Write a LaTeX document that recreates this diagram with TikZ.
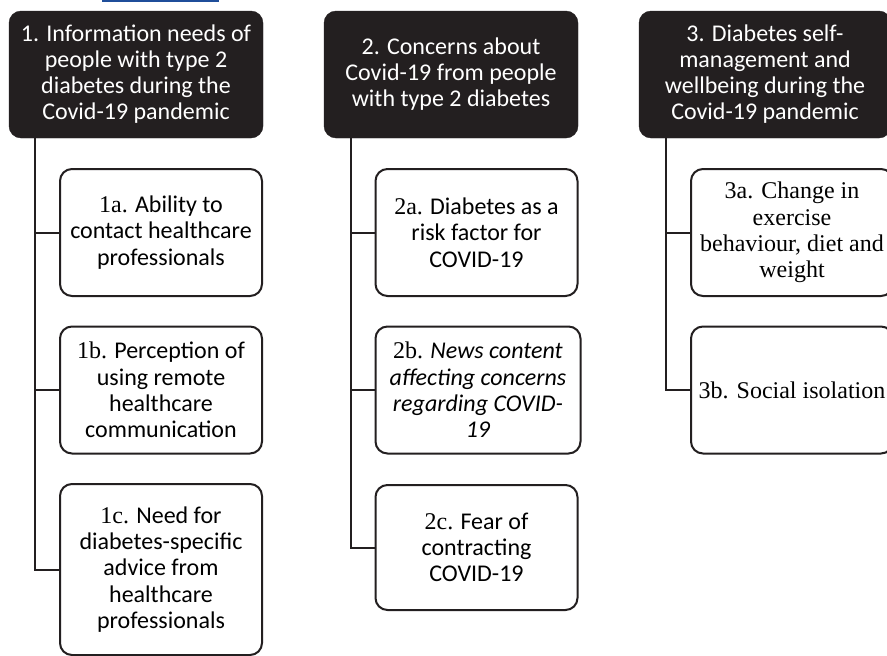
\documentclass[tikz,border=0pt]{standalone}
\usepackage{fontspec}
\setmainfont{Liberation Serif}
\newfontfamily\carl{Carlito}
\definecolor{hd}{HTML}{231F20}
\definecolor{bl}{HTML}{1F4E9A}
\begin{document}
\begin{tikzpicture}[x=1pt,y=-1pt,
  head/.style={rounded corners=12pt, fill=hd, draw=hd, text=white,
    minimum width=254, minimum height=127, align=center, inner sep=1pt,
    font=\carl\fontsize{24}{26}\selectfont},
  sub/.style={draw=hd, line width=2pt, rounded corners=12pt, fill=white,
    minimum width=202, minimum height=127, align=center, inner sep=1pt,
    font=\carl\fontsize{24}{26.3}\selectfont},
  subs/.style={sub, font=\rmfamily\fontsize{24}{26.3}\selectfont},
  conn/.style={draw=hd, line width=2pt}]
\clip (0,0) rectangle (887,656);
\fill[white] (0,0) rectangle (887,656);
\node[fill=bl, minimum width=117, minimum height=3, inner sep=0pt] (bar) at (160.5,0) {};
% headers
\node[head] (h1) at (136,74.5) {1. Information needs of\\people with type 2\\diabetes during the\\Covid-19 pandemic};
\node[head] (h2) at (451,74.5) {2. Concerns about\\Covid-19 from people\\with type 2 diabetes};
\node[head, minimum width=252] (h3) at (765,74.5) {3. Diabetes self-\\management and\\wellbeing during the\\Covid-19 pandemic};
% column 1
\node[sub] (s1a) at (161,232.5) {{\rmfamily 1a.} Ability to\\contact healthcare\\professionals};
\node[sub] (s1b) at (161,390) {{\rmfamily 1b.} Perception of\\using remote\\healthcare\\communication};
\node[sub, minimum height=171] (s1c) at (161,569.5) {{\rmfamily 1c.} Need for\\diabetes-specific\\advice from\\healthcare\\professionals};
% column 2
\node[sub] (s2a) at (476.5,232.5) {{\rmfamily 2a.} Diabetes as a\\risk factor for\\COVID-19};
\node[sub, minimum width=205] (s2b) at (478,390) {{\rmfamily 2b.} \textit{News content}\\\textit{affecting concerns}\\\textit{regarding COVID-}\\\textit{19}};
\node[sub, minimum height=125] (s2c) at (476.5,547.5) {{\rmfamily 2c.} Fear of\\contracting\\COVID-19};
% column 3
\node[subs] (s3a) at (792,232.5) {3a. Change in\\exercise\\behaviour, diet and\\weight};
\node[subs] (s3b) at (792,390) {3b. Social isolation};
% trunks
\coordinate (t1) at (35,138);
\coordinate (t2) at (350.5,138);
\coordinate (t3) at (666,138);
\draw[conn] (t1) |- (s1c.west);
\draw[conn] (s1a.west) -- (s1a.west -| t1);
\draw[conn] (s1b.west) -- (s1b.west -| t1);
\draw[conn] (t2) |- (s2c.west);
\draw[conn] (s2a.west) -- (s2a.west -| t2);
\draw[conn] (s2b.west) -- (s2b.west -| t2);
\draw[conn] (t3) |- (s3b.west);
\draw[conn] (s3a.west) -- (s3a.west -| t3);
\end{tikzpicture}
\end{document}
